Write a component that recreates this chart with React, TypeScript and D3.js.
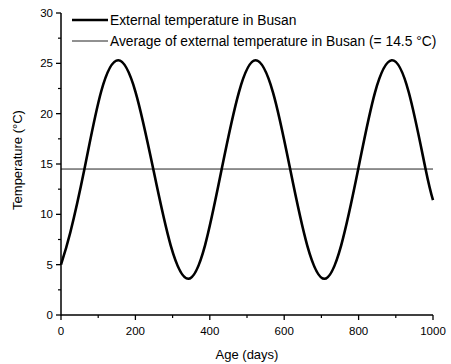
import React from "react";
import * as d3 from "d3";

const days = [0, 25, 63, 108, 154, 200, 248, 295, 342, 387, 432, 478, 523, 570, 616, 662, 708, 753, 799, 844, 889, 935, 980, 1000];
const temps = [5.0, 8.2, 14.5, 22.2, 25.3, 22.2, 14.5, 6.9, 3.6, 6.9, 14.5, 22.1, 25.3, 22.1, 14.5, 6.9, 3.6, 6.9, 14.5, 22.1, 25.3, 22.1, 14.5, 11.4];
const average = 14.5;
const xTicks = [0, 200, 400, 600, 800, 1000];
const xMinor = [100, 300, 500, 700, 900];
const yTicks = [0, 5, 10, 15, 20, 25, 30];
const yMinor = [2.5, 7.5, 12.5, 17.5, 22.5, 27.5];
const legendLabels = ["External temperature in Busan", "Average of external temperature in Busan (= 14.5 \u00b0C)"];

export default function App() {
  const W = 451, H = 364;
  const x = d3.scaleLinear().domain([0, 1000]).range([61, 433]);
  const y = d3.scaleLinear().domain([0, 30]).range([315, 13]);
  const pts = days.map((d, i) => [d, temps[i]] as [number, number]);
  const line = d3.line<[number, number]>().x(d => x(d[0])).y(d => y(d[1])).curve(d3.curveNatural);
  const font = "Arial, 'Liberation Sans', sans-serif";
  return (
    <svg width={W} height={H} style={{ position: "absolute", left: 0, top: 0, background: "#fff" }} fontFamily={font}>
      <rect width={W} height={H} fill="#fff" />
      <line x1={x(0)} x2={x(1000)} y1={y(average)} y2={y(average)} stroke="#222" strokeWidth={1} />
      <path d={line(pts) || ""} fill="none" stroke="#000" strokeWidth={2.6} />
      <line x1={x(0)} x2={x(0)} y1={y(0) + 0.5} y2={y(30)} stroke="#000" strokeWidth={1.5} />
      <line x1={x(0)} x2={x(1000)} y1={y(0)} y2={y(0)} stroke="#000" strokeWidth={1.5} />
      {yTicks.map(t => (
        <g key={"y" + t}>
          <line x1={x(0) - 5} x2={x(0)} y1={y(t)} y2={y(t)} stroke="#000" strokeWidth={1.3} />
          <text x={x(0) - 8} y={y(t)} dy="0.35em" textAnchor="end" fontSize={11.5} fill="#000">{t}</text>
        </g>
      ))}
      {yMinor.map(t => (
        <line key={"ym" + t} x1={x(0) - 3} x2={x(0)} y1={y(t)} y2={y(t)} stroke="#000" strokeWidth={1.2} />
      ))}
      {xTicks.map(t => (
        <g key={"x" + t}>
          <line x1={x(t)} x2={x(t)} y1={y(0)} y2={y(0) + 5} stroke="#000" strokeWidth={1.3} />
          <text x={x(t)} y={y(0) + 20} textAnchor="middle" fontSize={11.5} fill="#000">{t}</text>
        </g>
      ))}
      {xMinor.map(t => (
        <line key={"xm" + t} x1={x(t)} x2={x(t)} y1={y(0)} y2={y(0) + 3} stroke="#000" strokeWidth={1.2} />
      ))}
      <text x={x(500)} y={359} textAnchor="middle" fontSize={13} fill="#000">Age (days)</text>
      <text transform={`translate(22,${(y(0) + y(30)) / 2 - 4}) rotate(-90)`} textAnchor="middle" fontSize={13} fill="#000">Temperature ({"\u00b0"}C)</text>
      <line x1={72} x2={108} y1={20} y2={20} stroke="#000" strokeWidth={2.6} />
      <text x={110} y={20} dy="0.35em" fontSize={13.8} fill="#000">{legendLabels[0]}</text>
      <line x1={72} x2={108} y1={41} y2={41} stroke="#222" strokeWidth={1} />
      <text x={110} y={41} dy="0.35em" fontSize={13.8} fill="#000">{legendLabels[1]}</text>
    </svg>
  );
}
